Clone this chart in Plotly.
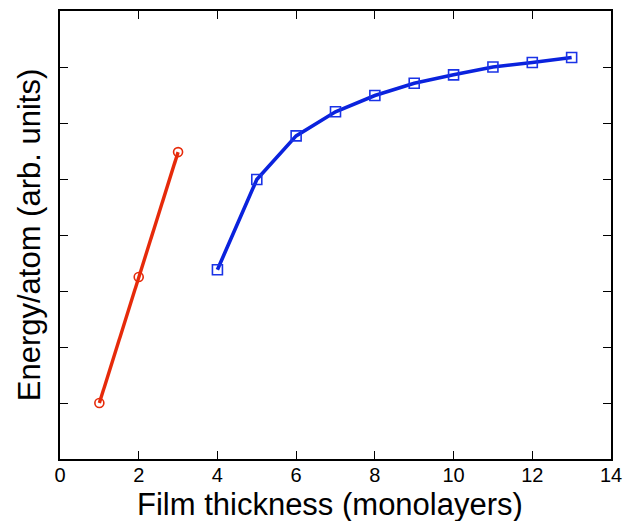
import plotly.graph_objects as go

# Thin-film energetics: two growth regimes
thin_x = [1, 2, 3]
thin_y = [1.0, 3.25, 5.48]

thick_x = [4, 5, 6, 7, 8, 9, 10, 11, 12, 13]
thick_y = [3.38, 4.99, 5.77, 6.20, 6.49, 6.71, 6.86, 7.00, 7.08, 7.17]

x_ticks = [0, 2, 4, 6, 8, 10, 12, 14]
y_ticks = [1, 2, 3, 4, 5, 6, 7]

x_title = "Film thickness (monolayers)"
y_title = "Energy/atom (arb. units)"

fig = go.Figure()
fig.add_trace(go.Scatter(
    x=thin_x, y=thin_y, mode="lines+markers",
    line=dict(color="#e62a0a", width=3.4),
    marker=dict(symbol="circle-open", size=9, color="#e62a0a", line=dict(width=1.6)),
))
fig.add_trace(go.Scatter(
    x=thick_x, y=thick_y, mode="lines+markers",
    line=dict(color="#0a22dd", width=3.6),
    marker=dict(symbol="square-open", size=10, color="#1a33e6", line=dict(width=1.6)),
))

axis_common = dict(
    showline=True, linecolor="black", linewidth=1.6, mirror="ticks",
    ticks="inside", ticklen=8, tickwidth=1.3, tickcolor="black",
    showgrid=False, zeroline=False, automargin=False,
)

fig.update_layout(
    width=629, height=521,
    margin=dict(l=60, r=18, t=11, b=62),
    paper_bgcolor="white", plot_bgcolor="white",
    showlegend=False,
    font=dict(family="Liberation Sans, Arial, sans-serif", color="black"),
    xaxis=dict(
        range=[0, 14], tickmode="array", tickvals=x_ticks,
        tickfont=dict(size=20), ticklabelstandoff=-3,
        **axis_common,
    ),
    yaxis=dict(
        range=[0, 8], tickmode="array", tickvals=y_ticks, showticklabels=False,
        title=dict(text=y_title, font=dict(size=31), standoff=8),
        **axis_common,
    ),
)

# x-axis title sits flush with the bottom edge, just under the tick labels
fig.add_annotation(
    text=x_title, xref="paper", yref="paper", x=0.49, y=0,
    xanchor="center", yanchor="bottom", yshift=-64,
    showarrow=False, borderpad=0, font=dict(size=31),
)

fig.write_html("out.html")
